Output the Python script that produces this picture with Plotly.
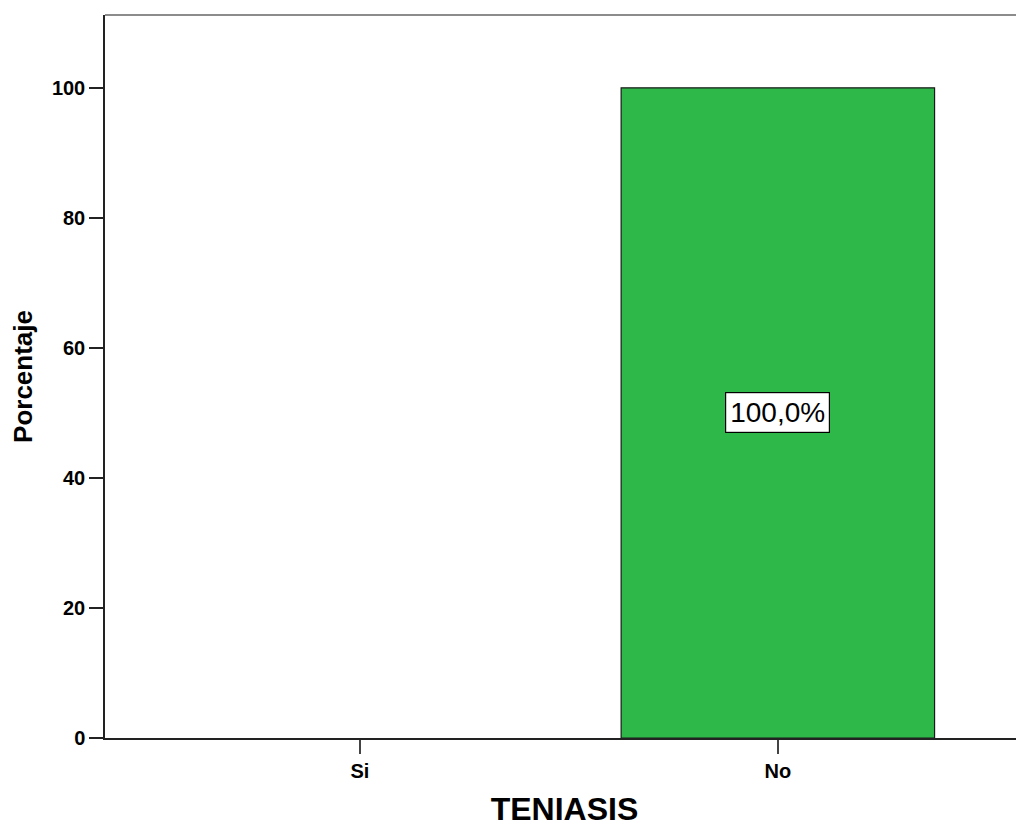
import plotly.graph_objects as go

categories = ["Si", "No"]
percentages = [0.0, 100.0]
bar_labels = ["", "100,0%"]
y_ticks = [0, 20, 40, 60, 80, 100]

FONT = "Arial, Liberation Sans, Helvetica, sans-serif"

outline_widths = [1.2 if v > 0 else 0 for v in percentages]

fig = go.Figure()
fig.add_trace(go.Bar(
    x=categories,
    y=percentages,
    width=0.75,
    marker=dict(color="#2EB84A", line=dict(color="#1a1a1a", width=outline_widths)),
    hoverinfo="skip",
))

for cat, val, lab in zip(categories, percentages, bar_labels):
    if lab:
        fig.add_annotation(
            x=cat, y=val / 2, text=lab, showarrow=False,
            font=dict(family=FONT, size=28, color="#000000"),
            bgcolor="#ffffff", bordercolor="#000000", borderwidth=1.2, borderpad=4,
        )

fig.add_shape(type="line", xref="paper", yref="paper", x0=0, x1=1, y0=1, y1=1,
              line=dict(color="#8c8c8c", width=2))

fig.update_layout(
    width=1016, height=819,
    margin=dict(l=97, r=0, t=7, b=89),
    paper_bgcolor="#ffffff", plot_bgcolor="#ffffff",
    showlegend=False,
    xaxis=dict(
        range=[-0.61, 1.589],
        showgrid=False, zeroline=False,
        showline=True, linecolor="#222222", linewidth=1.5,
        ticks="outside", ticklen=14, tickwidth=1.5, tickcolor="#444444",
        tickfont=dict(family=FONT, size=20, color="#000000", weight="bold"),
        title=dict(text="<b>TENIASIS</b>", font=dict(family=FONT, size=32, color="#000000"), standoff=17),
    ),
    yaxis=dict(
        range=[0, 111.2],
        tickvals=y_ticks,
        showgrid=False, zeroline=False,
        showline=True, linecolor="#222222", linewidth=1.5,
        ticks="outside", ticklen=14, tickwidth=1.5, tickcolor="#222222",
        tickfont=dict(family=FONT, size=20, color="#000000", weight="bold"),
        title=dict(text="<b>Porcentaje</b>", font=dict(family=FONT, size=26, color="#000000"), standoff=14),
    ),
)

fig.write_html("out.html")
